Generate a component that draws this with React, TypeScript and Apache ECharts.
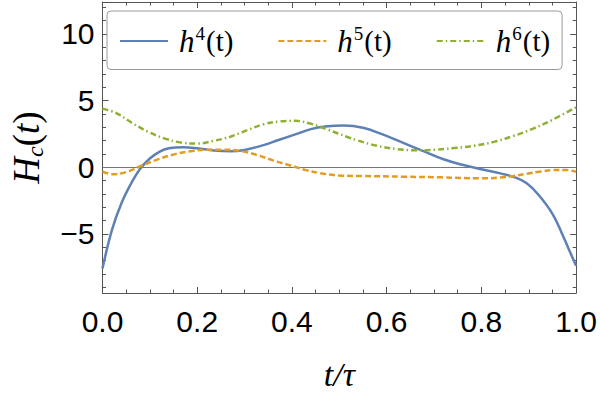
import React, { useEffect, useRef } from "react";
import * as echarts from "echarts";

const h4T = [0, 0.02, 0.04, 0.06, 0.08, 0.1, 0.12, 0.14, 0.17, 0.2, 0.235, 0.27, 0.3, 0.34, 0.37, 0.41, 0.44, 0.47, 0.51, 0.55, 0.59, 0.63, 0.675, 0.72, 0.76, 0.8, 0.84, 0.87, 0.895, 0.92, 0.95, 0.97, 0.985, 1.0];
const h4V = [-7.6, -4.7, -2.7, -1.25, -0.1, 0.65, 1.15, 1.42, 1.5, 1.42, 1.26, 1.2, 1.3, 1.66, 2.02, 2.5, 2.86, 3.06, 3.13, 2.96, 2.48, 1.9, 1.24, 0.6, 0.18, -0.15, -0.46, -0.75, -1.19, -2.05, -3.5, -4.97, -6.2, -7.4];

const h5T = [0, 0.022, 0.05, 0.085, 0.12, 0.155, 0.19, 0.22, 0.255, 0.29, 0.325, 0.36, 0.395, 0.43, 0.46, 0.5, 0.55, 0.635, 0.715, 0.8, 0.84, 0.867, 0.895, 0.922, 0.95, 0.977, 1.0];
const h5V = [-0.34, -0.52, -0.36, 0.15, 0.63, 1.0, 1.22, 1.32, 1.32, 1.22, 0.93, 0.51, 0.15, -0.22, -0.45, -0.62, -0.66, -0.71, -0.76, -0.83, -0.78, -0.66, -0.49, -0.34, -0.22, -0.2, -0.34];

const h6T = [0, 0.03, 0.063, 0.098, 0.132, 0.166, 0.2, 0.235, 0.27, 0.304, 0.338, 0.372, 0.407, 0.441, 0.475, 0.517, 0.537, 0.579, 0.62, 0.661, 0.702, 0.744, 0.785, 0.826, 0.867, 0.908, 0.95, 1.0];
const h6V = [4.4, 4.05, 3.31, 2.63, 2.15, 1.85, 1.78, 1.98, 2.29, 2.76, 3.2, 3.43, 3.48, 3.25, 2.83, 2.27, 2.03, 1.61, 1.37, 1.27, 1.32, 1.44, 1.61, 1.9, 2.34, 2.88, 3.56, 4.5];

const seriesNames = ["h4", "h5", "h6"];
const seriesSup = ["4", "5", "6"];
const yMajorTicks = [-5, 0, 5, 10];
const yMinorTicks = [-9, -8, -7, -6, -4, -3, -2, -1, 1, 2, 3, 4, 6, 7, 8, 9, 11, 12];
const Y_MIN = -9.44;
const Y_MAX = 12.4;

const COLORS = ["#5E81B5", "#E19C24", "#8FB032"];
const AXIS_COLOR = "#555";
const SANS = "'Liberation Sans', Arial, sans-serif";
const SERIF = "'Liberation Serif', 'Times New Roman', serif";

function pairs(t: number[], v: number[]) {
  return t.map((x, i) => [x, v[i]]);
}

export default function App() {
  const ref = useRef<HTMLDivElement>(null);
  useEffect(() => {
    document.body.style.margin = "0";
    if (!ref.current) return;
    const chart = echarts.init(ref.current, null, { renderer: "svg" });

    const yBase = (position: string, major: boolean, showLabel: boolean, showLine: boolean) => ({
      type: "value",
      position,
      min: Y_MIN,
      max: Y_MAX,
      offset: 0,
      axisLine: { show: showLine, onZero: false, lineStyle: { color: AXIS_COLOR, width: 1 } },
      axisTick: {
        show: true,
        inside: true,
        length: major ? 6 : 3.5,
        customValues: major ? yMajorTicks : yMinorTicks,
        lineStyle: { color: AXIS_COLOR, width: 1 },
      },
      axisLabel: showLabel
        ? {
            show: true,
            customValues: yMajorTicks,
            formatter: (v: number) => (v < 0 ? "\u2212" + Math.abs(v) : String(v)),
            fontSize: 30,
            fontFamily: SANS,
            color: "#000",
            margin: 8,
          }
        : { show: false },
      splitLine: { show: false },
    });

    const xBase = (position: string, showLabel: boolean) => ({
      type: "value",
      position,
      min: 0,
      max: 1,
      interval: 0.2,
      axisLine: { show: true, onZero: false, lineStyle: { color: AXIS_COLOR, width: 1 } },
      axisTick: { show: true, inside: true, length: 6, lineStyle: { color: AXIS_COLOR, width: 1 } },
      minorTick: { show: true, splitNumber: 4, length: 3.5, lineStyle: { color: AXIS_COLOR, width: 1 } },
      axisLabel: showLabel
        ? {
            show: true,
            formatter: (v: number) => v.toFixed(1),
            fontSize: 30,
            fontFamily: SANS,
            color: "#000",
            margin: 13,
          }
        : { show: false },
      splitLine: { show: false },
    });

    const option: any = {
      animation: false,
      backgroundColor: "#fff",
      grid: { left: 93, right: 22, top: 2, bottom: 95, containLabel: false },
      xAxis: [
        {
          ...xBase("bottom", true),
          name: "{i|t}{n|/}{i|τ}",
          nameLocation: "middle",
          nameGap: 64,
          nameTextStyle: {
            fontFamily: SERIF,
            rich: {
              i: { fontFamily: SERIF, fontStyle: "italic", fontSize: 34, color: "#000" },
              n: { fontFamily: SERIF, fontStyle: "italic", fontSize: 34, color: "#000" },
            },
          },
        },
        xBase("top", false),
      ],
      yAxis: [
        {
          ...yBase("left", true, true, true),
          name: "{i|H}{s|c}{n|(}{i|t}{n|)}",
          nameLocation: "middle",
          nameRotate: 90,
          nameGap: 56,
          nameTextStyle: {
            fontFamily: SERIF,
            rich: {
              i: { fontFamily: SERIF, fontStyle: "italic", fontSize: 37, color: "#000", lineHeight: 40 },
              n: { fontFamily: SERIF, fontSize: 37, color: "#000", lineHeight: 40 },
              s: { fontFamily: SERIF, fontStyle: "italic", fontSize: 24, color: "#000", lineHeight: 40, verticalAlign: "bottom", padding: [12, 0, 0, 0] },
            },
          },
        },
        yBase("left", false, false, false),
        yBase("right", true, false, true),
        yBase("right", false, false, false),
      ],
      legend: {
        left: 107,
        top: 11,
        orient: "horizontal",
        padding: [13, 12, 13, 12],
        itemWidth: 48,
        itemHeight: 14,
        itemGap: 44,
        backgroundColor: "#fff",
        borderColor: "#999",
        borderWidth: 1,
        borderRadius: 4,
        itemStyle: { opacity: 0 },
        data: seriesNames,
        formatter: (name: string) => {
          const i = seriesNames.indexOf(name);
          return "{h|h}{sup|" + seriesSup[i] + "}{p|(t)}";
        },
        textStyle: {
          fontFamily: SERIF,
          fontSize: 29,
          color: "#000",
          padding: [0, 0, 0, 6],
          rich: {
            h: { fontFamily: SERIF, fontStyle: "italic", fontSize: 31, color: "#000", lineHeight: 34 },
            sup: { fontFamily: SERIF, fontSize: 19, color: "#000", lineHeight: 34, verticalAlign: "top", padding: [0, 1, 10, 1] },
            p: { fontFamily: SERIF, fontSize: 29, color: "#000", lineHeight: 34 },
          },
        },
      },
      series: [
        {
          name: "h4",
          type: "line",
          data: pairs(h4T, h4V),
          smooth: 0.4,
          symbol: "none",
          lineStyle: { color: COLORS[0], width: 2.5 },
          itemStyle: { color: COLORS[0] },
          z: 3,
          markLine: {
            silent: true,
            symbol: ["none", "none"],
            label: { show: false },
            lineStyle: { color: "#777", width: 1, type: "solid" },
            data: [{ yAxis: 0 }],
            z: 1,
          },
        },
        {
          name: "h5",
          type: "line",
          data: pairs(h5T, h5V),
          smooth: 0.4,
          symbol: "none",
          lineStyle: { color: COLORS[1], width: 2.5, type: [6, 3] },
          itemStyle: { color: COLORS[1] },
          z: 3,
        },
        {
          name: "h6",
          type: "line",
          data: pairs(h6T, h6V),
          smooth: 0.4,
          symbol: "none",
          lineStyle: { color: COLORS[2], width: 2.5, type: [6, 3, 1.5, 3] },
          itemStyle: { color: COLORS[2] },
          z: 3,
        },
      ],
    };
    chart.setOption(option);
    return () => chart.dispose();
  }, []);
  return <div ref={ref} style={{ width: 600, height: 396 }} />;
}
